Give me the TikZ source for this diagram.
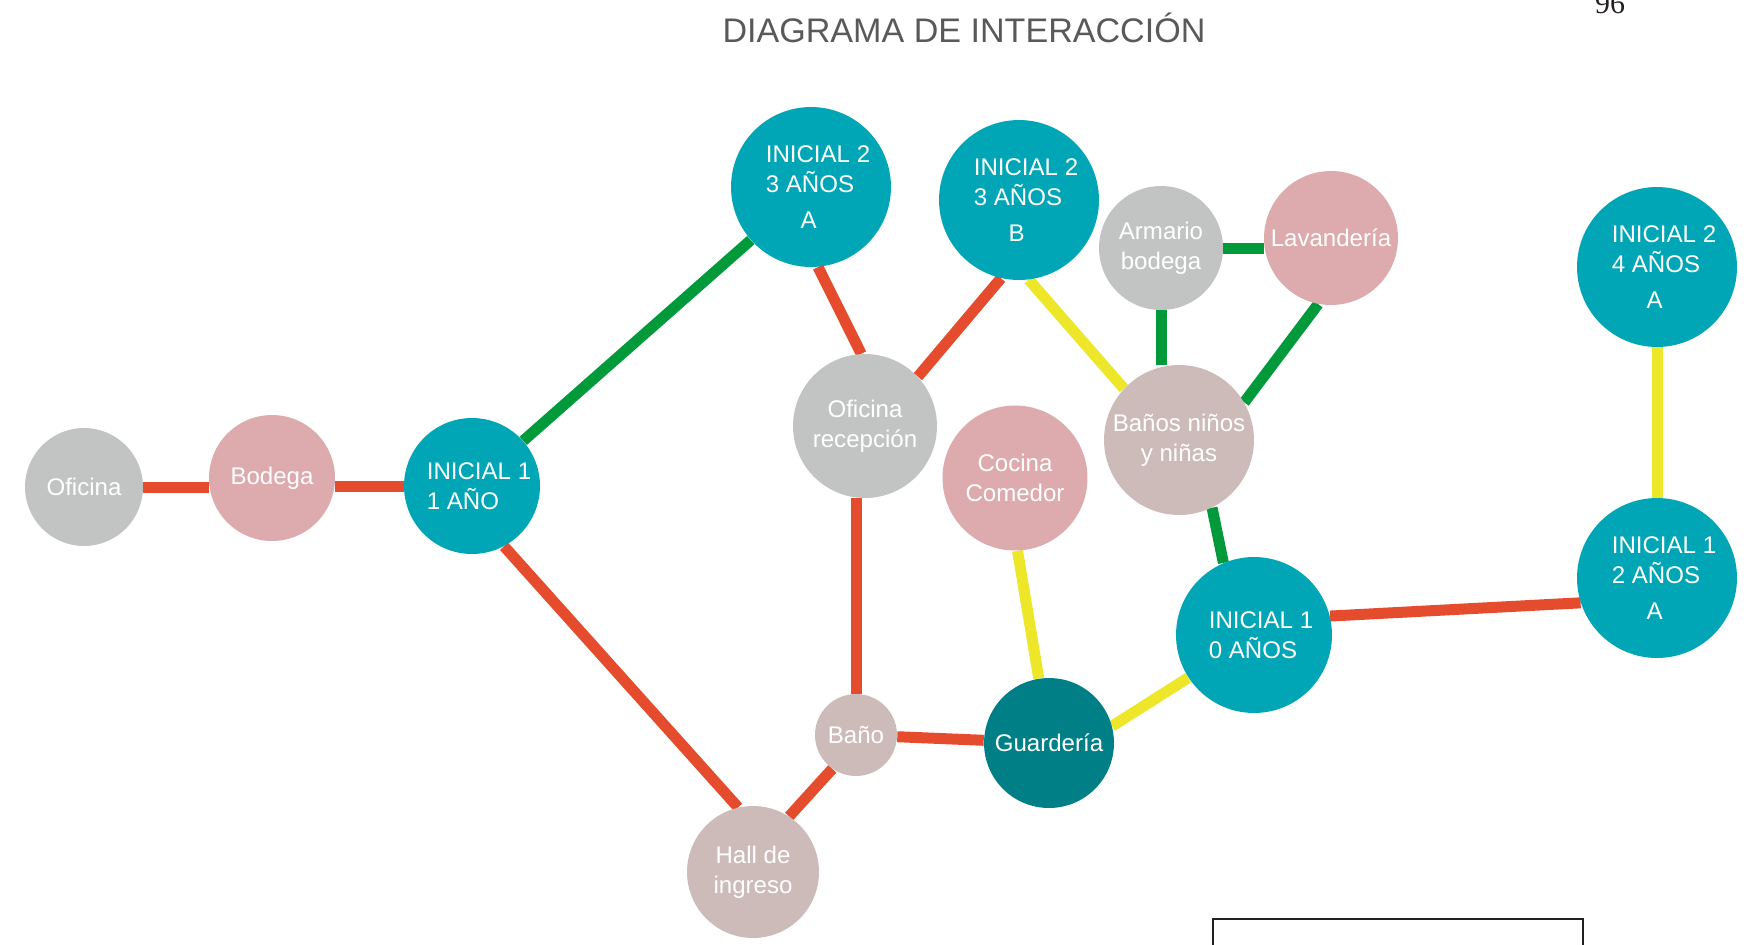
\documentclass[tikz,border=0pt]{standalone}
\usepackage{fontspec}
\setmainfont{Liberation Sans}
\newfontfamily\numfont{Liberation Serif}
\usetikzlibrary{backgrounds}
\definecolor{turquesa}{HTML}{00A6B5}
\definecolor{petroleo}{HTML}{007F87}
\definecolor{gris}{HTML}{C1C4C3}
\definecolor{rosa}{HTML}{DDAAAD}
\definecolor{malva}{HTML}{CDBBB9}
\definecolor{enlrojo}{HTML}{E54C2E}
\definecolor{enlverde}{HTML}{009A3A}
\definecolor{enlamarillo}{HTML}{EEE628}
\definecolor{gristitulo}{HTML}{595959}
\definecolor{tinta}{HTML}{231F20}
\tikzset{
    espacio/.style={circle, inner sep=0pt, text=white, align=center,
        font=\fontsize{13.7}{17}\selectfont},
    aula/.style={espacio, fill=turquesa, align=left},
    zonagris/.style={espacio, fill=gris},
    zonarosa/.style={espacio, fill=rosa},
    zonamalva/.style={espacio, fill=malva},
    enlace/.style={line width=0.22cm},
    rojo/.style={enlace, draw=enlrojo},
    verde/.style={enlace, draw=enlverde},
    amarillo/.style={enlace, draw=enlamarillo}
}
\def\Sangria{\hspace*{0.28cm}}
\def\Aula#1#2#3{\Sangria#1\\\Sangria#2\\[0.12cm]\Sangria\hspace*{1.45em}#3}
\def\AulaDos#1#2{\Sangria#1\\\Sangria#2}

\begin{document}
\begin{tikzpicture}[x=0.02cm, y=-0.02cm]
    \useasboundingbox (0,0) rectangle (1748,944);

    \node[anchor=base, text=gristitulo, font=\fontsize{19.4}{23}\selectfont] (titulo) at (964,42) {DIAGRAMA DE INTERACCIÓN};
    \node[anchor=base, text=tinta, font=\numfont\fontsize{17}{20}\selectfont] (pagina) at (1610,13) {96};

    \node[zonagris, minimum size=2.36cm] (oficina) at (84,487) {Oficina};
    \node[zonarosa, minimum size=2.52cm] (bodega) at (272,478) {Bodega};
    \node[aula, minimum size=2.72cm] (ini1) at (472,486) {\AulaDos{INICIAL 1}{1 AÑO}};
    \node[aula, minimum size=3.2cm] (ini23a) at (811,187) {\Aula{INICIAL 2}{3 AÑOS}{A}};
    \node[aula, minimum size=3.2cm] (ini23b) at (1019,200) {\Aula{INICIAL 2}{3 AÑOS}{B}};
    \node[zonagris, minimum size=2.48cm] (armario) at (1161,248) {Armario\\bodega};
    \node[zonarosa, minimum size=2.68cm] (lavanderia) at (1331,238) {Lavandería};
    \node[aula, minimum size=3.2cm] (ini24a) at (1657,267) {\Aula{INICIAL 2}{4 AÑOS}{A}};
    \node[zonagris, minimum size=2.88cm] (recepcion) at (865,426) {Oficina\\recepción};
    \node[zonamalva, minimum size=3cm] (banos) at (1179,440) {Baños niños\\y niñas};
    \node[zonarosa, minimum size=2.9cm] (cocina) at (1015,478) {Cocina\\Comedor};
    \node[aula, minimum size=3.12cm] (ini10) at (1254,635) {\AulaDos{INICIAL 1}{0 AÑOS}};
    \node[aula, minimum size=3.2cm] (ini12a) at (1657,578) {\Aula{INICIAL 1}{2 AÑOS}{A}};
    \node[zonamalva, minimum size=1.64cm] (bano) at (856,735) {Baño};
    \node[espacio, fill=petroleo, minimum size=2.6cm] (guarderia) at (1049,743) {Guardería};
    \node[zonamalva, minimum size=2.64cm] (hall) at (753,872) {Hall de\\ingreso};

    \begin{scope}[on background layer]
        \draw[rojo] (oficina.east) -- (oficina.east -| bodega.west);
        \draw[rojo] (bodega.east |- ini1.west) -- (ini1.west);
        \draw[verde] (ini1) -- (ini23a);
        \draw[rojo] (ini1.-62) -- (hall.103);
        \draw[rojo] (ini23a.-85) -- (recepcion.93);
        \draw[rojo] (ini23b.-103) -- (recepcion.43);
        \draw[amarillo] (ini23b.-83) -- (banos.137);
        \draw[verde] (armario.east) -- (armario.east -| lavanderia.west);
        \draw[verde] (armario.south) -- (armario.south |- banos.north);
        \draw[verde] (lavanderia.-101) -- (banos.30);
        \draw[rojo] (bano.north) -- (bano.north |- recepcion.south);
        \draw[rojo] (bano.-125) -- (hall.57);
        \draw[rojo] (bano) -- (guarderia);
        \draw[amarillo] (cocina.-88) -- (guarderia.99);
        \draw[amarillo] (guarderia.15) -- (ini10.-147);
        \draw[verde] (banos.-64) -- (ini10.113);
        \draw[rojo] (ini10.14) -- (ini12a.-162);
        \draw[amarillo] (ini24a) -- (ini12a);
    \end{scope}

    \draw[line width=0.04cm, tinta] (1213,960) |- (1583,919) -- (1583,960);
\end{tikzpicture}
\end{document}
